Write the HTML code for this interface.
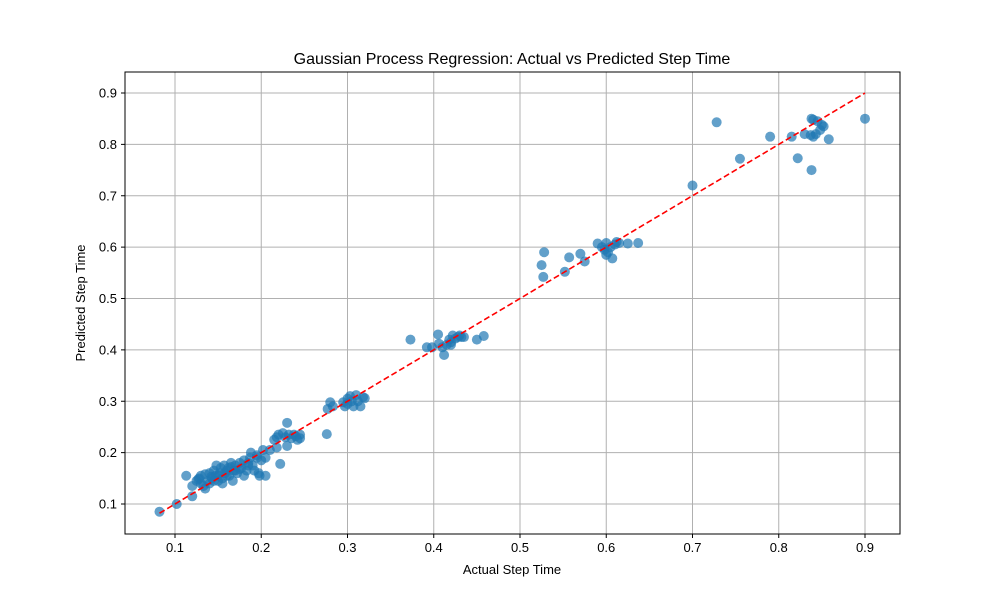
<!DOCTYPE html>
<html><head><meta charset="utf-8"><style>body{margin:0;background:#fff}svg{display:block;font-family:"Liberation Sans",sans-serif}</style></head>
<body>
<svg id="chart" width="1000" height="600">
<rect width="1000" height="600" fill="#fff"/>
<g id="grid"></g><g id="marks"></g>
<rect x="125" y="72" width="775" height="462" fill="none" stroke="#000" stroke-width="1"/>
<g id="ticks"></g>
<text x="512" y="64" text-anchor="middle" font-size="16">Gaussian Process Regression: Actual vs Predicted Step Time</text>
<text x="512" y="574" text-anchor="middle" font-size="13">Actual Step Time</text>
<text x="85" y="303" text-anchor="middle" font-size="13" transform="rotate(-90 85 303)">Predicted Step Time</text>
</svg>
<script>
const actual=[0.9,0.728,0.79,0.755,0.70,0.815,0.822,0.83,0.837,0.838,0.84,0.845,0.848,0.85,0.852,0.84,0.858,0.838,0.843,
0.525,0.528,0.527,0.552,0.557,0.57,0.575,0.59,0.595,0.598,0.60,0.602,0.605,0.607,0.61,0.615,0.625,0.637,0.60,0.612,
0.373,0.392,0.398,0.405,0.406,0.41,0.412,0.415,0.418,0.42,0.422,0.425,0.428,0.43,0.432,0.435,0.45,0.458,0.42,
0.276,0.277,0.28,0.283,0.295,0.297,0.3,0.303,0.305,0.307,0.31,0.312,0.315,0.318,0.32,0.3,
0.082,0.102,0.12,0.113,0.12,0.125,0.128,0.13,0.13,0.133,0.135,0.138,0.14,0.14,0.143,0.145,0.147,0.148,0.15,0.152,0.153,0.155,0.157,0.158,0.16,0.162,0.163,0.165,0.167,0.168,0.17,0.172,0.175,0.177,0.18,0.18,0.183,0.185,0.187,0.188,0.19,0.192,0.195,0.197,0.198,0.2,0.202,0.205,0.205,0.21,0.215,0.218,0.22,0.222,0.225,0.228,0.23,0.23,0.232,0.235,0.238,0.24,0.242,0.245,0.245,0.218,0.155,0.135,0.145,0.16,0.17,0.15,0.127,0.142,0.165,0.175,0.185,0.195];
const predicted=[0.85,0.843,0.815,0.772,0.72,0.815,0.773,0.82,0.818,0.85,0.848,0.845,0.828,0.838,0.835,0.815,0.81,0.75,0.82,
0.565,0.59,0.542,0.552,0.58,0.587,0.572,0.607,0.6,0.595,0.608,0.59,0.6,0.578,0.605,0.608,0.607,0.608,0.585,0.61,
0.42,0.405,0.405,0.43,0.412,0.405,0.39,0.41,0.42,0.415,0.428,0.422,0.425,0.428,0.425,0.425,0.42,0.427,0.41,
0.236,0.285,0.298,0.29,0.298,0.29,0.305,0.31,0.3,0.29,0.312,0.3,0.29,0.308,0.306,0.295,
0.085,0.1,0.115,0.155,0.135,0.145,0.15,0.14,0.155,0.135,0.158,0.145,0.16,0.14,0.15,0.165,0.155,0.175,0.145,0.16,0.17,0.15,0.175,0.16,0.165,0.17,0.155,0.18,0.145,0.165,0.175,0.16,0.18,0.17,0.185,0.155,0.165,0.175,0.19,0.2,0.175,0.165,0.195,0.16,0.155,0.185,0.205,0.19,0.155,0.205,0.225,0.21,0.235,0.178,0.238,0.23,0.258,0.213,0.235,0.228,0.235,0.232,0.225,0.235,0.228,0.23,0.14,0.13,0.145,0.155,0.165,0.155,0.148,0.153,0.172,0.168,0.18,0.19];
const xTicks=[0.1,0.2,0.3,0.4,0.5,0.6,0.7,0.8,0.9];
const yTicks=[0.1,0.2,0.3,0.4,0.5,0.6,0.7,0.8,0.9];
const lineRange=[0.082,0.9];
const X=v=>175+(v-0.1)*862.5, Y=v=>504-(v-0.1)*513.75;
const NS='http://www.w3.org/2000/svg';
function mk(t,a,p){const e=document.createElementNS(NS,t);for(const k in a)e.setAttribute(k,a[k]);p.appendChild(e);return e;}
const grid=document.getElementById('grid'),ticks=document.getElementById('ticks'),marks=document.getElementById('marks');
xTicks.forEach(t=>{
 const g=mk('line',{x1:X(t),x2:X(t),y1:72,y2:534,stroke:'#b0b0b0','stroke-width':1},grid);
 
 
 mk('line',{x1:X(t),x2:X(t),y1:534,y2:538,stroke:'#000'},ticks);
 const l=mk('text',{x:X(t),y:552,'text-anchor':'middle','font-size':13},ticks);l.textContent=t.toFixed(1);
 
 
});
yTicks.forEach(t=>{
 const g=mk('line',{x1:125,x2:900,y1:Y(t),y2:Y(t),stroke:'#b0b0b0','stroke-width':1},grid);
 
 
 mk('line',{x1:121,x2:125,y1:Y(t),y2:Y(t),stroke:'#000'},ticks);
 const l=mk('text',{x:117,y:Y(t)+4.5,'text-anchor':'end','font-size':13},ticks);l.textContent=t.toFixed(1);
 
 
});
actual.forEach((a,i)=>{
 const c=mk('circle',{cx:X(a),cy:Y(predicted[i]),r:5,fill:'#1f77b4','fill-opacity':0.7},marks);
 
 
});
const ln=mk('line',{x1:X(lineRange[0]),y1:Y(lineRange[0]),x2:X(lineRange[1]),y2:Y(lineRange[1]),stroke:'#ff0000','stroke-width':1.6,'stroke-dasharray':'6,3'},marks);


</script>
</body></html>
